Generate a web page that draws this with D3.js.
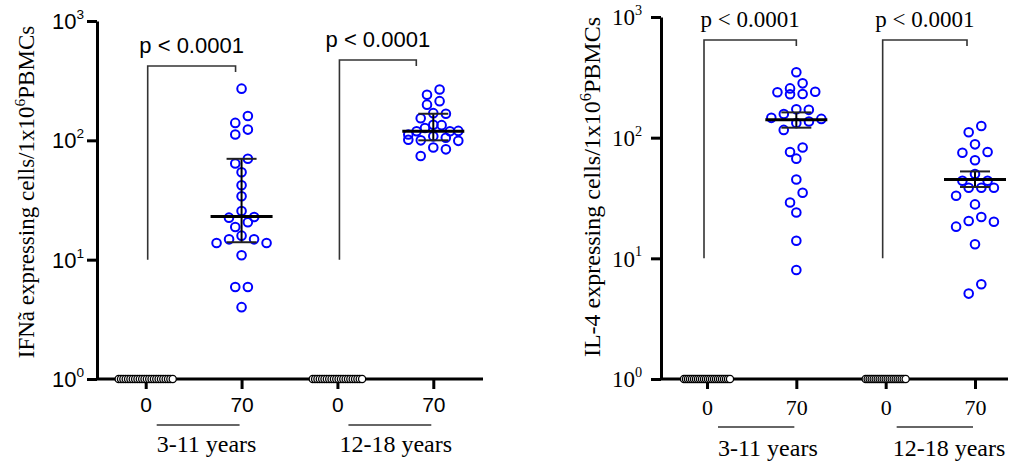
<!DOCTYPE html>
<html>
<head>
<meta charset="utf-8">
<script src="https://cdn.jsdelivr.net/npm/d3@7"></script>
<style>
  body { margin: 0; background: #fff; }
  svg { display: block; }
</style>
</head>
<body>
<svg id="chart" width="1011" height="462"></svg>
<script>
// tick labels / groups
var doseTicks = ['0', '70', '0', '70'];
var ageGroups = ['3-11 years', '12-18 years'];
var pLabels = ['p < 0.0001', 'p < 0.0001'];
var yTickValues = [1, 10, 100, 1000];

// IFN panel, stimulated (70)
var ifnAge3to11 = [271, 160, 140, 123, 112, 70, 64, 54, 42, 34, 25.6, 22.8, 22.5, 20.6,
  18.8, 15.9, 14.8, 14.8, 13.8, 13.8, 10.9, 5.9, 5.9, 4.0];
var ifnAge12to18 = [267, 241, 213, 199, 169, 167, 153, 135, 134, 127, 119, 119, 120, 112,
  108, 105, 100, 99, 101, 87, 84, 74];
// IFN panel, unstimulated (0)
var ifnBase3to11 = [1, 1, 1, 1, 1, 1, 1, 1, 1, 1, 1, 1, 1, 1, 1, 1, 1, 1, 1, 1, 1, 1, 1, 1];
var ifnBase12to18 = [1, 1, 1, 1, 1, 1, 1, 1, 1, 1, 1, 1, 1, 1, 1, 1, 1, 1, 1, 1, 1, 1];
var ifnMedian = [23, 119];
var ifnHigh = [70, 167];
var ifnLow = [14, 100];

// IL-4 panel, stimulated (70)
var il4Age3to11 = [348, 282, 256, 240, 238, 230, 229, 172, 170, 157, 143, 146, 132, 136,
  116, 83, 76, 67, 45, 35, 29, 24, 14, 8.0];
var il4Age12to18 = [125, 111, 88, 76, 75, 65, 50, 44, 44, 38.5, 38.5, 38.5, 33, 28, 22,
  20.4, 20.1, 18.3, 13.1, 6.1, 5.1];
// IL-4 panel, unstimulated (0)
var il4Base3to11 = [1, 1, 1, 1, 1, 1, 1, 1, 1, 1, 1, 1, 1, 1, 1, 1, 1, 1, 1, 1, 1, 1, 1, 1];
var il4Base12to18 = [1, 1, 1, 1, 1, 1, 1, 1, 1, 1, 1, 1, 1, 1, 1, 1, 1, 1, 1, 1, 1];
var il4Median = [141, 45];
var il4High = [162, 52.5];
var il4Low = [121, 39];

;(function (window, document, undefined) {

  'use strict';

  var SANS = '"Liberation Sans", Arial, sans-serif';
  var SERIF = '"Liberation Serif", "Times New Roman", serif';
  var BLUE = '#0000ff';

  var svg = d3.select('#chart');

  // Prism-like scatter: group points into rows, spread each row around the centre
  var _swarm = function (values, y, cx, rowH, dx, maxW) {
    var pts = values.map(function (v, i) { return { v: v, i: i, py: y(v) }; })
      .sort(function (a, b) { return a.py - b.py; });
    var rows = [];
    pts.forEach(function (p) {
      var row = rows[rows.length - 1];
      if (row && p.py - row[0].py < rowH) row.push(p);
      else rows.push([p]);
    });
    rows.forEach(function (row) {
      var n = row.length;
      var step = n > 1 ? Math.min(dx, maxW / (n - 1)) : 0;
      var slots = d3.range(n).map(function (j) { return (j - (n - 1) / 2) * step; })
        .sort(function (a, b) { return Math.abs(a) - Math.abs(b) || b - a; });
      row.slice().sort(function (a, b) { return a.i - b.i; }).forEach(function (p, j) {
        p.px = cx + slots[j];
      });
    });
    return pts;
  };

  var _drawPanel = function (cfg) {
    var g = svg.append('g');

    var y = d3.scaleLog().domain([1, 1000]).range([cfg.yBottom, cfg.yTop]);
    var x = d3.scalePoint().domain(['a0', 'a70', 'b0', 'b70']).range(cfg.xRange);
    var keys = x.domain();

    // y axis
    var yAxis = g.append('g')
      .attr('transform', 'translate(' + cfg.axisX + ',0)')
      .call(d3.axisLeft(y).tickValues(yTickValues).tickSize(10).tickSizeOuter(0).tickFormat(''));
    yAxis.select('.domain').attr('stroke-width', 3);
    yAxis.selectAll('.tick line').attr('stroke-width', 3);

    var yLab = g.selectAll('.ylab').data(yTickValues).enter().append('text')
      .attr('x', cfg.axisX - cfg.yLabGap)
      .attr('y', function (d) { return y(d) + cfg.yFontSize * 0.36; })
      .attr('text-anchor', 'end')
      .style('font-family', cfg.tickFont)
      .style('font-size', cfg.yFontSize + 'px');
    yLab.append('tspan').text('10');
    yLab.append('tspan')
      .attr('dy', -cfg.yFontSize * 0.45)
      .style('font-size', (cfg.yFontSize * 0.62) + 'px')
      .text(function (d) { return String(Math.round(Math.log10(d))); });

    // x axis
    g.append('line')
      .attr('x1', cfg.axisX).attr('x2', cfg.xEnd)
      .attr('y1', cfg.yBottom).attr('y2', cfg.yBottom)
      .attr('stroke', '#000').attr('stroke-width', 3);
    var xAxis = g.append('g')
      .attr('transform', 'translate(0,' + cfg.yBottom + ')')
      .call(d3.axisBottom(x).tickSize(10).tickSizeOuter(0)
        .tickFormat(function (d, i) { return doseTicks[i]; }));
    xAxis.select('.domain').remove();
    xAxis.selectAll('.tick line').attr('stroke-width', 3);
    xAxis.selectAll('.tick text')
      .attr('y', cfg.xTickDy)
      .attr('dy', 0)
      .style('font-family', cfg.tickFont)
      .style('font-size', cfg.xFontSize + 'px')
      .attr('fill', '#000');

    // age group labels
    ageGroups.forEach(function (name, i) {
      var x0 = x(keys[i * 2]);
      var x1 = x(keys[i * 2 + 1]);
      g.append('line')
        .attr('x1', x0 + 11).attr('x2', x1 - 2)
        .attr('y1', cfg.groupLineY).attr('y2', cfg.groupLineY)
        .attr('stroke', '#333').attr('stroke-width', 1.6);
      g.append('text')
        .attr('x', x0 + 11 + cfg.groupTextDx[i])
        .attr('y', cfg.groupTextY)
        .style('font-family', SERIF)
        .style('font-size', '24px')
        .text(name);
    });

    // y title
    var title = g.append('text')
      .attr('transform', 'translate(' + cfg.titleX + ',' + cfg.titleY + ') rotate(-90)')
      .attr('text-anchor', 'middle')
      .style('font-family', SERIF)
      .style('font-size', cfg.titleSize + 'px');
    title.append('tspan').text(cfg.title + '/1x10');
    title.append('tspan').attr('dy', -9).style('font-size', (cfg.titleSize * 0.68) + 'px').text('6');
    title.append('tspan').attr('dy', 9).text('PBMCs');

    // unstimulated points, all at 10^0
    cfg.base.forEach(function (vals, i) {
      var cx = x(keys[i * 2]);
      var n = vals.length;
      g.selectAll(null).data(vals).enter().append('circle')
        .attr('cx', function (d, j) { return cx + (j - (n - 1) / 2) * cfg.baseStep; })
        .attr('cy', function (d) { return y(d); })
        .attr('r', 3.6)
        .attr('fill', '#fff')
        .attr('stroke', '#000')
        .attr('stroke-width', 1.3);
    });

    // stimulated points
    cfg.stim.forEach(function (vals, i) {
      var cx = x(keys[i * 2 + 1]);
      var pts = _swarm(vals, y, cx, 10, 12.6, 50);
      g.selectAll(null).data(pts).enter().append('circle')
        .attr('cx', function (d) { return d.px; })
        .attr('cy', function (d) { return d.py; })
        .attr('r', 4.3)
        .attr('fill', 'none')
        .attr('stroke', BLUE)
        .attr('stroke-width', 2);
    });

    // median and range bars
    cfg.median.forEach(function (m, i) {
      var cx = x(keys[i * 2 + 1]);
      g.append('line')
        .attr('x1', cx).attr('x2', cx)
        .attr('y1', y(cfg.high[i])).attr('y2', y(cfg.low[i]))
        .attr('stroke', '#000').attr('stroke-width', 2);
      [cfg.high[i], cfg.low[i]].forEach(function (v) {
        g.append('line')
          .attr('x1', cx - 15).attr('x2', cx + 15)
          .attr('y1', y(v)).attr('y2', y(v))
          .attr('stroke', '#222').attr('stroke-width', 2);
      });
      g.append('line')
        .attr('x1', cx - 31).attr('x2', cx + 31)
        .attr('y1', y(m)).attr('y2', y(m))
        .attr('stroke', '#000').attr('stroke-width', 3);
    });

    // significance brackets
    pLabels.forEach(function (label, i) {
      var bx0 = x(keys[i * 2]) + cfg.bracketDx0;
      var bx1 = x(keys[i * 2 + 1]) + cfg.bracketDx1[i];
      var by = cfg.bracketY[i];
      g.append('path')
        .attr('d', 'M' + bx0 + ',' + y(10) + 'V' + by + 'H' + bx1 + 'v6')
        .attr('fill', 'none')
        .attr('stroke', '#333')
        .attr('stroke-width', 1.6);
      g.append('text')
        .attr('x', (bx0 + bx1) / 2)
        .attr('y', by - 13)
        .attr('text-anchor', 'middle')
        .style('font-family', cfg.pFont)
        .style('font-size', cfg.pFontSize + 'px')
        .text(label);
    });
  };

  _drawPanel({
    axisX: 97, yTop: 21, yBottom: 379,
    xRange: [145.7, 433.3], xEnd: 483,
    tickFont: SANS, yFontSize: 22, xFontSize: 21, yLabGap: 13, xTickDy: 33,
    pFont: SANS, pFontSize: 22,
    groupLineY: 425, groupTextY: 452, groupTextDx: [0, -9],
    titleX: 34, titleY: 192, titleSize: 23, title: 'IFNã expressing cells',
    bracketDx0: 2, bracketDx1: [-6, -17], bracketY: [66, 60],
    baseStep: 2.35,
    base: [ifnBase3to11, ifnBase12to18],
    stim: [ifnAge3to11, ifnAge12to18],
    median: ifnMedian, high: ifnHigh, low: ifnLow
  });

  _drawPanel({
    axisX: 661, yTop: 17, yBottom: 379,
    xRange: [707, 975], xEnd: 1008,
    tickFont: SERIF, yFontSize: 23, xFontSize: 22, yLabGap: 19, xTickDy: 36,
    pFont: SERIF, pFontSize: 23,
    groupLineY: 427, groupTextY: 456, groupTextDx: [0, -4],
    titleX: 600, titleY: 187, titleSize: 24, title: 'IL-4 expressing cells',
    bracketDx0: -3, bracketDx1: [0, -8], bracketY: [40, 40],
    baseStep: 2.0,
    base: [il4Base3to11, il4Base12to18],
    stim: [il4Age3to11, il4Age12to18],
    median: il4Median, high: il4High, low: il4Low
  });

})(window, document);
</script>
</body>
</html>
